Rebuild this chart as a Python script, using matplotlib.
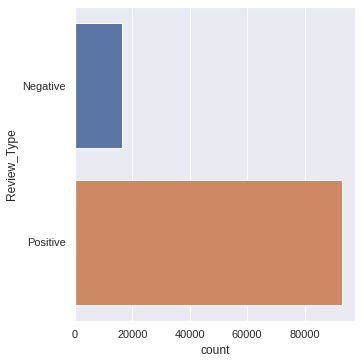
import matplotlib
matplotlib.use("Agg")
import matplotlib.pyplot as plt
import seaborn as sns

sns.set_theme(style="darkgrid")
plt.rcParams["font.family"] = ["Liberation Sans", "DejaVu Sans"]

categories = ["Negative", "Positive"]
counts = [16350, 92870]
colors = [sns.desaturate(c, 0.75) for c in sns.color_palette("deep")[:2]]

fig = plt.figure(figsize=(362/72, 362/72), dpi=72)
ax = fig.add_axes([75/362, 1 - 321/362, 280/362, 314/362])
ax.barh(range(len(categories)), counts, height=0.8, color=colors, edgecolor="white", linewidth=1)
ax.set_yticks(range(len(categories)))
ax.set_yticklabels(categories)
ax.set_ylim(1.5, -0.5)
ax.set_xlim(0, max(counts) * 1.05)
ax.set_xticks([0, 20000, 40000, 60000, 80000])
ax.set_xlabel("count")
ax.set_ylabel("Review_Type")
ax.grid(axis="y", visible=False)
fig.savefig("out.png", dpi=72)
